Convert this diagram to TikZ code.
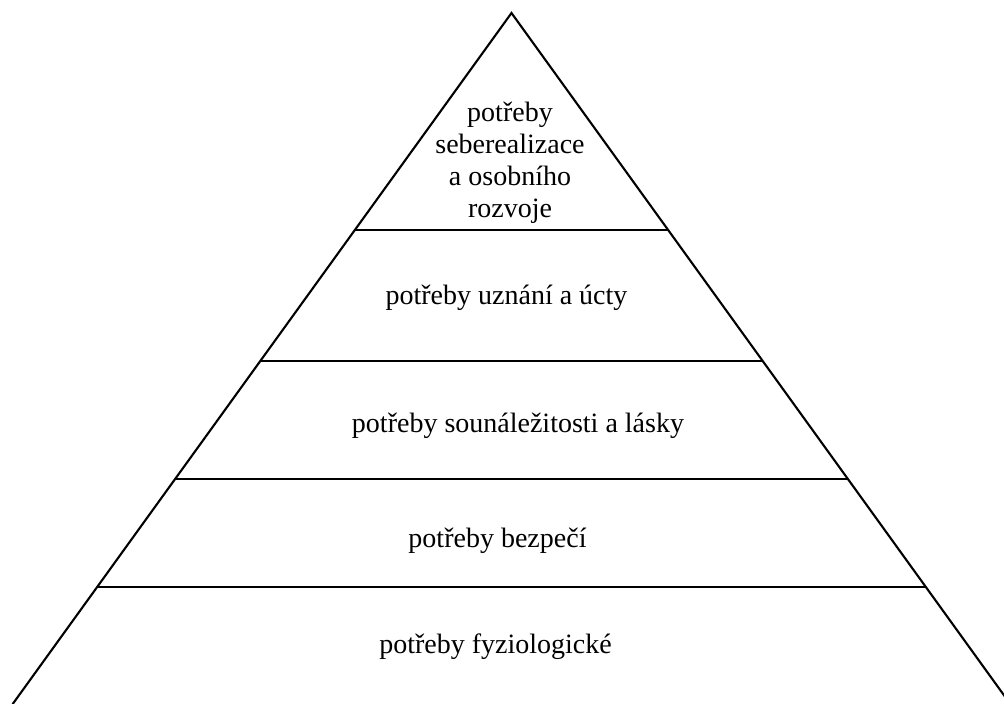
\documentclass[tikz,border=0pt]{standalone}
\usepackage{fontspec}
\setmainfont{Liberation Serif}
\begin{document}
\begin{tikzpicture}[x=1pt,y=-1pt,
  side/.style={line width=2.1pt, line cap=round, line join=miter},
  level/.style={line width=2.1pt},
  label/.style={inner sep=0pt, anchor=base, font=\fontsize{28}{31.7}\selectfont, align=center}]
\useasboundingbox (0,0) rectangle (1004,704);
\clip (0,0) rectangle (1004,704);
\fill[white] (0,0) rectangle (1004,704);
% apex and base corners
\coordinate (apex) at (511.5,13);
\coordinate (bl) at (12.7,704);
\coordinate (br) at (1010.3,704);
% level lines endpoints
\coordinate (l1) at (354.9,230);  \coordinate (r1) at (668.1,230);
\coordinate (l2) at (260.3,361);  \coordinate (r2) at (762.7,361);
\coordinate (l3) at (175.1,479);  \coordinate (r3) at (847.9,479);
\coordinate (l4) at (97.2,587);   \coordinate (r4) at (925.8,587);
\draw[side] (bl) -- (apex) -- (br);
\draw[level] (l1) -- (r1);
\draw[level] (l2) -- (r2);
\draw[level] (l3) -- (r3);
\draw[level] (l4) -- (r4);
\node[label] (t1) at (510,217) {potřeby\\seberealizace\\a osobního\\rozvoje};
\node[label] (t2) at (506.5,304) {potřeby uznání a úcty};
\node[label] (t3) at (518,432) {potřeby sounáležitosti a lásky};
\node[label] (t4) at (497.5,547) {potřeby bezpečí};
\node[label] (t5) at (495.5,653) {potřeby fyziologické};
\end{tikzpicture}
\end{document}
